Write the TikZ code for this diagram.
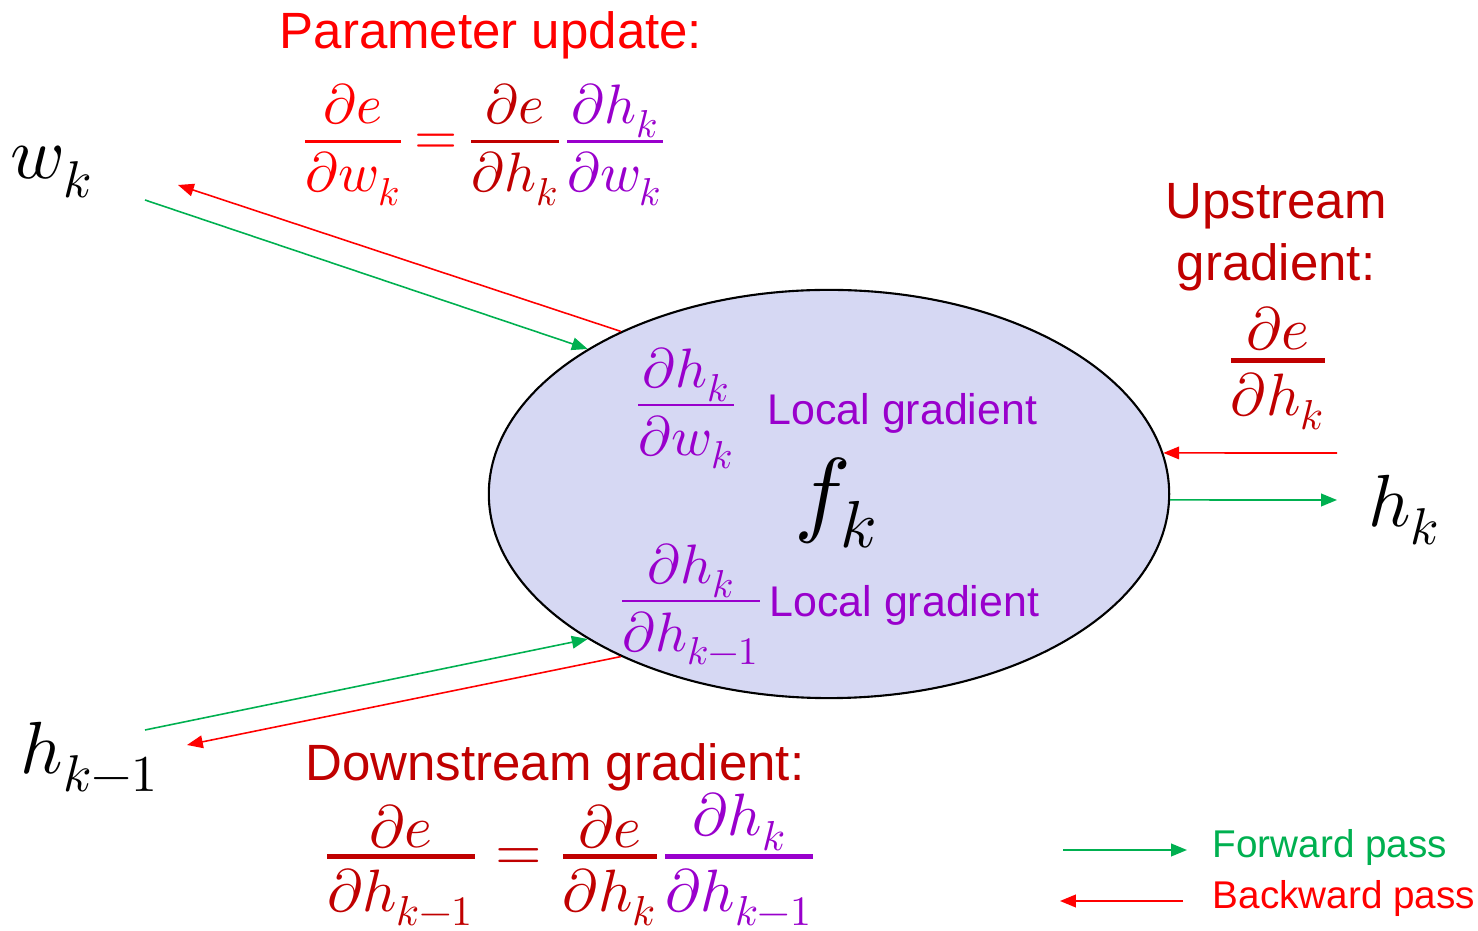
\documentclass[tikz,border=0pt]{standalone}
\usepackage{amsmath}
\usepackage{unicode-math}
\setmathfont{Latin Modern Math}
\newfontfamily\arialfont{Liberation Sans}
\usepackage{xcolor}
\usepackage{tikz}
\usetikzlibrary{shapes.geometric,arrows.meta}

\definecolor{fwdgreen}{RGB}{0,176,80}
\definecolor{bwdred}{RGB}{255,0,0}
\definecolor{darkred}{RGB}{192,0,0}
\definecolor{localpurple}{RGB}{153,0,204}
\definecolor{nodefill}{RGB}{214,216,243}

\newcommand{\pd}{\partial}
% fraction with given bar thickness, a bit more air than text style
\newcommand{\gfrac}[4][0.25em]{\genfrac{}{}{#2}{1}{\displaystyle #3\rule[-#1]{0pt}{#1}}{\displaystyle\rule{0pt}{0.84em}#4}}

\begin{document}
\begin{tikzpicture}[x=0.01cm, y=-0.01cm,
    fwd/.style={-{Triangle[length=4.5pt,width=3.6pt]}, fwdgreen, line width=0.45pt},
    bwd/.style={-{Triangle[length=4.5pt,width=3.6pt]}, bwdred, line width=0.45pt},
    func/.style={ellipse, draw, fill=nodefill, minimum width=6.8cm, minimum height=4.08cm, inner sep=0pt, line width=0.6pt},
    var/.style={font=\fontsize{21}{24}\selectfont, inner sep=0pt},
    title/.style={font=\arialfont\fontsize{14.5}{17.5}\selectfont, inner sep=0pt, align=center, anchor=north},
    eqn/.style={font=\fontsize{17}{20}\selectfont, inner sep=0pt, anchor=base},
    smalleqn/.style={eqn, font=\fontsize{15.8}{19}\selectfont},
    note/.style={font=\arialfont\fontsize{12.2}{14}\selectfont, localpurple, inner sep=0pt, anchor=base west},
    legend/.style={font=\arialfont\fontsize{11}{13}\selectfont, inner sep=0pt, anchor=base west}
]
    \useasboundingbox (0,0) rectangle (1478,931);

    % Function node
    \node[func] (fk) at (829,494) {};
    \node[font=\fontsize{27}{30}\selectfont, inner sep=0pt] (fklabel) at (836,503) {$f_k$};

    % Local gradients
    \node[smalleqn, localpurple] (lgw) at (686,419) {$\gfrac{0.7pt}{\pd h_k}{\pd w_k}$};
    \node[note] (lgwtxt) at (767,425) {Local gradient};
    \node[smalleqn, localpurple] (lgh) at (691,615) {$\gfrac{0.7pt}{\pd h_k}{\pd h_{k-1}}$};
    \node[note] (lghtxt) at (769,617) {Local gradient};

    % Variables
    \node[var] (wk) at (52,172) {$w_k$};
    \node[var] (hkm) at (90,757) {$h_{k-1}$};
    \node[var] (hk) at (1404,510) {$h_k$};

    % Arrow ends
    \coordinate (wk-out) at (145,200);
    \coordinate (wk-in) at (178,185);
    \coordinate (hkm-out) at (145,730);
    \coordinate (hkm-in) at (187,745);
    \coordinate (hk-in) at (1337,500);
    \coordinate (hk-out) at (1337,453);

    % Forward and backward passes
    \draw[fwd] (wk-out) -- (fk.149);
    \draw[bwd] (fk.142) -- (wk-in);
    \draw[fwd] (hkm-out) -- (fk.211);
    \draw[bwd] (fk.218) -- (hkm-in);
    \draw[fwd] (fk.-1) -- (hk-in);
    \draw[bwd] (hk-out) -- (fk.7);

    % Parameter update
    \node[title, bwdred] (ptitle) at (491,11) {Parameter update:};
    \node[smalleqn, bwdred] (peq) at (484,155)
        {$\thickmuskip=3mu\relax\gfrac{0.8pt}{\pd e}{\pd w_k}=\textcolor{darkred}{\gfrac{0.8pt}{\pd e}{\pd h_k}}\textcolor{localpurple}{\gfrac{0.8pt}{\pd h_k}{\pd w_k}}$};

    % Upstream gradient
    \node[title, darkred] (utitle) at (1276,183) {Upstream\\gradient:};
    \node[eqn, darkred] (ueq) at (1278,375) {$\gfrac[0.1em]{1.4pt}{\pd e}{\pd h_k}$};

    % Downstream gradient
    \node[title, darkred] (dtitle) at (555,743) {Downstream gradient:};
    \node[eqn, darkred] (deq) at (570,871)
        {$\gfrac[0.02em]{1.4pt}{\pd e}{\pd h_{k-1}}=\gfrac[0.02em]{1.4pt}{\pd e}{\pd h_k}\textcolor{localpurple}{\gfrac[0.02em]{1.4pt}{\pd h_k}{\pd h_{k-1}}}$};

    % Legend
    \coordinate (fwd-a) at (1063,850);
    \coordinate (fwd-b) at (1187,850);
    \coordinate (bwd-a) at (1183,901);
    \coordinate (bwd-b) at (1060,901);
    \draw[fwd] (fwd-a) -- (fwd-b);
    \draw[bwd] (bwd-a) -- (bwd-b);
    \node[legend, fwdgreen] (fwdtxt) at (1212,858) {Forward pass};
    \node[legend, bwdred] (bwdtxt) at (1212,909) {Backward pass};
\end{tikzpicture}
\end{document}
